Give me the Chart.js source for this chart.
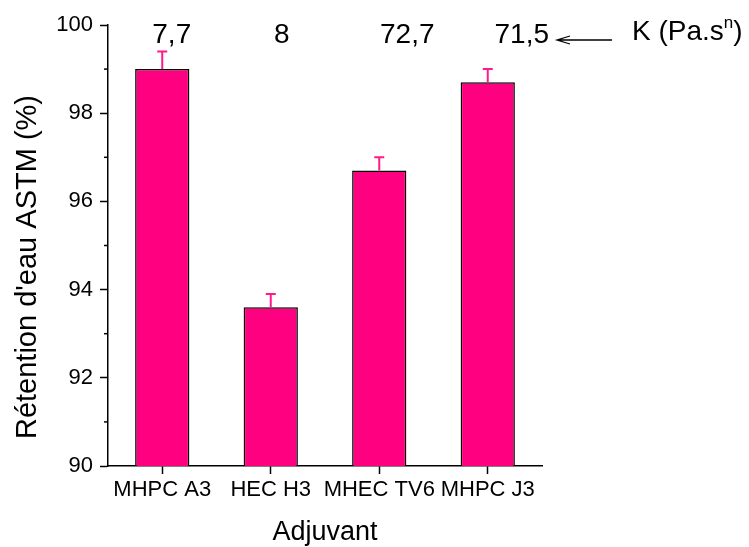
<!DOCTYPE html>
<html><head><meta charset="utf-8">
<script src="https://cdn.jsdelivr.net/npm/chart.js@4.4.0/dist/chart.umd.min.js"></script>
<style>html,body{margin:0;padding:0;background:#fff}canvas{display:block}</style>
</head><body>
<canvas id="c" width="749" height="547"></canvas>
<script>
// ---- data ----
const categories = ['MHPC A3', 'HEC H3', 'MHEC TV6', 'MHPC J3'];
const retention = [99.0, 93.6, 96.7, 98.7];
const errors = [0.4, 0.3, 0.3, 0.3];
const kValues = ['7,7', '8', '72,7', '71,5'];
const yMajorTicks = [90, 92, 94, 96, 98, 100];
const yMinorTicks = [91, 93, 95, 97, 99];
const yTitle = "Rétention d'eau ASTM (%)";
const xTitle = 'Adjuvant';
const kTitle = 'K (Pa.s';
const kTitleSup = 'n';

const FONT = '"Liberation Sans", Arial, sans-serif';
const BAR_COLOR = '#FF0080';
const ERR_COLOR = '#FF1A8C';

const extrasPlugin = {
  id: 'extras',
  afterDatasetsDraw(chart) {
    const ctx = chart.ctx;
    const ys = chart.scales.y;
    const meta = chart.getDatasetMeta(0);
    ctx.save();
    // error bars (upper only)
    ctx.strokeStyle = ERR_COLOR;
    ctx.lineWidth = 2;
    meta.data.forEach((bar, i) => {
      const x = bar.x;
      const y0 = ys.getPixelForValue(retention[i]);
      const y1 = ys.getPixelForValue(retention[i] + errors[i]);
      ctx.beginPath();
      ctx.moveTo(x, y0); ctx.lineTo(x, y1);
      ctx.moveTo(x - 5, y1); ctx.lineTo(x + 5, y1);
      ctx.stroke();
    });
    ctx.restore();
  },
  afterDraw(chart) {
    const ctx = chart.ctx;
    const xs = chart.scales.x, ys = chart.scales.y;
    const area = chart.chartArea;
    ctx.save();
    // minor ticks on y axis
    ctx.strokeStyle = '#000';
    ctx.lineWidth = 1.5;
    yMinorTicks.forEach(v => {
      const y = ys.getPixelForValue(v);
      ctx.beginPath();
      ctx.moveTo(area.left, y); ctx.lineTo(area.left - 4, y);
      ctx.stroke();
    });
    // y title
    ctx.fillStyle = '#000';
    ctx.font = '29px ' + FONT;
    ctx.textAlign = 'center';
    ctx.textBaseline = 'alphabetic';
    ctx.save();
    ctx.translate(36, 267);
    ctx.rotate(-Math.PI / 2);
    ctx.fillText(yTitle, 0, 0);
    ctx.restore();
    // K values above bars
    const kOffsets = [9.5, 11, 28, 34];
    ctx.font = '28px ' + FONT;
    ctx.textAlign = 'center';
    kValues.forEach((t, i) => {
      ctx.fillText(t, xs.getPixelForValue(i) + kOffsets[i], area.top + 18);
    });
    // arrow
    const ay = area.top + 15;
    ctx.lineWidth = 1.3;
    ctx.beginPath();
    ctx.moveTo(557, ay); ctx.lineTo(612, ay);
    ctx.moveTo(570, ay - 4); ctx.lineTo(557, ay); ctx.lineTo(570, ay + 4);
    ctx.stroke();
    // K (Pa.s^n)
    ctx.textAlign = 'left';
    let kx = 632;
    const kb = area.top + 15;
    ctx.font = '28px ' + FONT;
    ctx.fillText(kTitle, kx, kb);
    kx += ctx.measureText(kTitle).width;
    ctx.font = '17px ' + FONT;
    ctx.fillText(kTitleSup, kx, kb - 12);
    kx += ctx.measureText(kTitleSup).width;
    ctx.font = '28px ' + FONT;
    ctx.fillText(')', kx, kb);
    ctx.restore();
  }
};

new Chart(document.getElementById('c'), {
  type: 'bar',
  data: {
    labels: categories,
    datasets: [{
      data: retention,
      backgroundColor: BAR_COLOR,
      borderColor: '#000',
      borderWidth: 1.5,
      borderSkipped: 'bottom',
      barPercentage: 0.5,
      categoryPercentage: 1.0
    }]
  },
  options: {
    responsive: false,
    animation: false,
    devicePixelRatio: 1,
    layout: { padding: { left: 0, top: 25, right: 207, bottom: 0 } },
    plugins: { legend: { display: false }, tooltip: { enabled: false } },
    scales: {
      x: {
        offset: true,
        grid: { display: true, offset: false, drawOnChartArea: false, tickLength: 8, tickColor: '#000', tickWidth: 1.5 },
        border: { display: true, color: '#000', width: 1.5 },
        ticks: { color: '#000', font: { family: FONT, size: 22 }, padding: 3, maxRotation: 0, autoSkip: false },
        title: { display: true, text: xTitle, color: '#000', font: { family: FONT, size: 27, lineHeight: 1 }, padding: { top: 0, bottom: 1 } },
        afterFit(s) { s.height = 81; }
      },
      y: {
        min: 90, max: 100,
        afterBuildTicks(s) { s.ticks = yMajorTicks.map(v => ({ value: v })); },
        grid: { display: true, drawOnChartArea: false, tickLength: 8, tickColor: '#000', tickWidth: 1.5 },
        border: { display: true, color: '#000', width: 1.5 },
        ticks: { color: '#000', font: { family: FONT, size: 22 }, padding: 7 },
        afterFit(s) { s.width = 108; }
      }
    }
  },
  plugins: [extrasPlugin]
});
</script>
</body></html>
